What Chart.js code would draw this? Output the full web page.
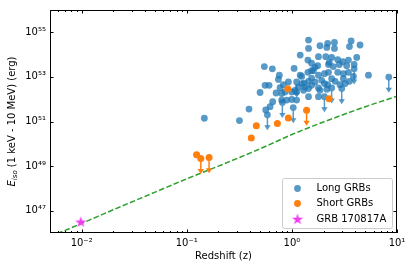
<!DOCTYPE html>
<html>
<head>
<meta charset="utf-8">
<script src="https://cdn.jsdelivr.net/npm/chart.js@4.4.0/dist/chart.umd.min.js"></script>
<style>
  html, body { margin: 0; padding: 0; background: #fff; }
  canvas { display: block; }
</style>
</head>
<body>
<canvas id="grbChart" width="415" height="270"></canvas>
<script>
// Long GRBs: redshift and isotropic energy (erg)
const longZ = [1.44, 3.66, 2.19, 2.54, 1.85, 2.15, 2.54, 3.53, 4.45, 1.44,
               1.20, 1.42, 1.79, 2.10, 2.39, 2.73, 3.05, 3.45, 4.14, 1.54,
               1.76, 2.23, 2.48, 2.83, 3.32, 3.91, 0.547, 0.652, 1.05, 1.42,
               1.54, 1.60, 1.79, 2.04, 2.23, 2.73, 3.09, 3.45, 3.85, 3.91,
               0.760, 1.20, 1.54, 5.35, 8.35, 0.744, 0.926, 1.11, 1.24, 1.44,
               1.66, 1.92, 2.04, 2.19, 2.58, 2.87, 3.21, 3.53, 0.556, 0.607,
               0.830, 0.772, 1.29, 1.44, 1.85, 2.15, 1.79, 2.39, 2.98, 0.498,
               0.707, 0.800, 0.861, 0.997, 1.11, 1.07, 1.44, 1.79, 2.04, 0.800,
               0.893, 0.997, 1.11, 0.657, 0.812, 0.620, 0.564, 1.03, 0.391, 0.585,
               0.147, 0.317, 1.24, 1.31, 2.27, 1.15, 1.33, 1.54, 2.39, 3.09, 1.66];
const longE = [4.5e54, 4.1e54, 3.2e54, 3.5e54, 2.5e54, 2.1e54, 1.9e54, 2.3e54, 2.7e54, 1.9e54,
               9.5e53, 5.7e53, 8.1e53, 8.1e53, 7.5e53, 5.9e53, 4.8e53, 5.7e53, 7.5e53, 4.1e53,
               3.2e53, 3.6e53, 2.9e53, 3.6e53, 3.2e53, 3.6e53, 2.9e53, 2.3e53, 2.4e53, 1.6e53,
               1.9e53, 1.9e53, 1.2e53, 1.4e53, 1.6e53, 1.6e53, 1.4e53, 1.6e53, 1.05e53, 2.3e53,
               1.2e53, 1.2e53, 8.9e52, 1.2e53, 9.8e52, 7.7e52, 5.9e52, 5.9e52, 5.0e52, 6.3e52,
               5.9e52, 7.0e52, 5.0e52, 4.5e52, 6.3e52, 4.5e52, 5.0e52, 6.3e52, 4.2e52, 4.2e52,
               4.5e52, 3.3e52, 2.5e52, 3.0e52, 2.5e52, 2.8e52, 3.2e52, 3.2e52, 3.0e52, 2.0e52,
               1.9e52, 1.8e52, 2.1e52, 2.1e52, 2.1e52, 2.5e52, 1.3e52, 1.3e52, 1.3e52, 9.1e51,
               9.1e51, 9.7e51, 9.1e51, 7.7e51, 7.2e51, 4.6e51, 3.3e51, 4.2e51, 3.6e51, 2.0e51,
               1.4e51, 1.1e51, 1.05e53, 5.3e52, 4.5e53, 3.5e52, 3.5e52, 4.2e52, 8.3e52, 8.3e52, 2.7e53];
const longUpperIdx = [39, 44, 47, 67, 68, 78, 84, 87, 89]; // upper limits (down arrows)

// Short GRBs
const shortZ = [0.124, 0.136, 0.163, 0.411, 0.459, 0.728, 0.925, 1.38, 0.914, 2.26];
const shortE = [3.2e49, 2.2e49, 2.4e49, 1.8e50, 6.5e50, 8.1e50, 1.45e51, 3.2e51, 2.95e52, 1.05e52];
const shortUpperIdx = [1, 2, 7];

// GRB 170817A
const starZ = [0.0098];
const starE = [3.2e46];

// detection limit curve (green dashed)
const limitZ = [0.005, 0.01, 0.02, 0.05, 0.1, 0.2, 0.5, 1, 2, 5, 10];
const limitE = [6.8e45, 2.7e46, 1.1e47, 6.8e47, 2.7e48, 1.0e49, 6.0e49, 2.6e50, 9.5e50, 4.6e51, 1.35e52];

const xTickValues = [0.01, 0.1, 1, 10];
const xTickLabels = ['10⁻²', '10⁻¹', '10⁰', '10¹'];
const yTickValues = [1e47, 1e49, 1e51, 1e53, 1e55];
const yTickLabels = ['10⁴⁷', '10⁴⁹', '10⁵¹', '10⁵³', '10⁵⁵'];
const legendLabels = ['Long GRBs', 'Short GRBs', 'GRB 170817A'];

const FONT = 'DejaVu Sans';
const BLUE = 'rgba(31, 119, 180, 0.75)';
const ORANGE = '#ff7f0e';
const MAGENTA = '#f23cf2';
const GREEN = '#2ca02c';
const ARROW_DROP = 0.2; // arrow tip at E * 0.2

Chart.defaults.font.family = FONT;
Chart.defaults.font.size = 10;
Chart.defaults.color = '#000';

function toPoints(xs, ys) {
    return xs.map((x, i) => ({ x: x, y: ys[i] }));
}

// filled five point star, like the matplotlib '*' marker
function makeStar(size, color) {
    const c = document.createElement('canvas');
    c.width = c.height = size;
    const g = c.getContext('2d');
    const r = size / 2, ri = r * 0.382;
    g.beginPath();
    for (let i = 0; i < 10; i++) {
        const rad = i % 2 === 0 ? r : ri;
        const a = -Math.PI / 2 + i * Math.PI / 5;
        g.lineTo(r + rad * Math.cos(a), r * 1.08 + rad * Math.sin(a));
    }
    g.closePath();
    g.fillStyle = color;
    g.fill();
    return c;
}
const starImg = makeStar(12, MAGENTA);

const decorations = {
    id: 'decorations',
    afterDatasetDraw(chart, args) {
        const ds = chart.data.datasets[args.index];
        if (!ds.upperIdx) return;
        const { ctx, chartArea: a } = chart;
        const x = chart.scales.x, y = chart.scales.y;
        ctx.save();
        ctx.beginPath();
        ctx.rect(a.left, a.top, a.right - a.left, a.bottom - a.top);
        ctx.clip();
        ctx.strokeStyle = ds.backgroundColor;
        ctx.fillStyle = ds.backgroundColor;
        ctx.lineWidth = 1.5;
        ds.upperIdx.forEach(i => {
            const p = ds.data[i];
            const px = x.getPixelForValue(p.x);
            const y0 = y.getPixelForValue(p.y);
            const y1 = y.getPixelForValue(p.y * ARROW_DROP);
            ctx.beginPath();
            ctx.moveTo(px, y0 + 3);
            ctx.lineTo(px, y1 - 4);
            ctx.stroke();
            ctx.beginPath();
            ctx.moveTo(px - 3.2, y1 - 5);
            ctx.lineTo(px + 3.2, y1 - 5);
            ctx.lineTo(px, y1);
            ctx.closePath();
            ctx.fill();
        });
        ctx.restore();
    },
    afterDraw(chart) {
        const { ctx, chartArea: a } = chart;
        const x = chart.scales.x, y = chart.scales.y;
        ctx.save();

        // frame
        ctx.strokeStyle = '#000';
        ctx.lineWidth = 1;
        ctx.strokeRect(a.left + 0.5, a.top + 0.5, a.right - a.left - 1, a.bottom - a.top - 1);

        // inward ticks on all four sides
        ctx.beginPath();
        for (let k = -3; k <= 1; k++) {
            for (let m = 1; m <= 9; m++) {
                const v = m * Math.pow(10, k);
                if (v < x.min || v > x.max) continue;
                const px = Math.round(x.getPixelForValue(v)) + 0.5;
                const len = m === 1 ? 3.5 : 2;
                ctx.moveTo(px, a.bottom); ctx.lineTo(px, a.bottom - len);
                ctx.moveTo(px, a.top); ctx.lineTo(px, a.top + len);
            }
        }
        yTickValues.forEach(v => {
            const py = Math.round(y.getPixelForValue(v)) + 0.5;
            ctx.moveTo(a.left, py); ctx.lineTo(a.left + 3.5, py);
            ctx.moveTo(a.right, py); ctx.lineTo(a.right - 3.5, py);
        });
        ctx.stroke();

        // axis titles
        ctx.fillStyle = '#000';
        ctx.textBaseline = 'middle';
        ctx.textAlign = 'center';
        ctx.font = '10px ' + FONT;
        ctx.fillText('Redshift (z)', (a.left + a.right) / 2, 256);

        ctx.save();
        ctx.translate(12.5, (a.top + a.bottom) / 2);
        ctx.rotate(-Math.PI / 2);
        ctx.textAlign = 'left';
        const parts = [
            { t: 'E', f: 'italic 10px ' + FONT, dy: 0 },
            { t: 'iso', f: 'italic 7px ' + FONT, dy: 2.5 },
            { t: ' (1 keV - 10 MeV) (erg)', f: '10px ' + FONT, dy: 0 }
        ];
        let total = 0;
        parts.forEach(p => { ctx.font = p.f; p.w = ctx.measureText(p.t).width; total += p.w; });
        let cx = -total / 2;
        parts.forEach(p => { ctx.font = p.f; ctx.fillText(p.t, cx, p.dy); cx += p.w; });
        ctx.restore();

        // legend
        const bw = 110, bh = 50;
        const bx = a.right - 4.5 - bw, by = a.bottom - 4.5 - bh;
        ctx.beginPath();
        ctx.roundRect(bx, by, bw, bh, 2);
        ctx.fillStyle = 'rgba(255,255,255,0.8)';
        ctx.fill();
        ctx.strokeStyle = '#cccccc';
        ctx.lineWidth = 1;
        ctx.stroke();

        const mx = bx + 15, tx = bx + 34;
        const rows = [by + 10, by + 25, by + 40.5];
        ctx.beginPath();
        ctx.arc(mx, rows[0], 3.4, 0, Math.PI * 2);
        ctx.fillStyle = BLUE;
        ctx.fill();
        ctx.beginPath();
        ctx.arc(mx, rows[1], 3.4, 0, Math.PI * 2);
        ctx.fillStyle = ORANGE;
        ctx.fill();
        ctx.drawImage(starImg, mx - 6, rows[2] - 6);

        ctx.fillStyle = '#000';
        ctx.font = '10px ' + FONT;
        ctx.textAlign = 'left';
        legendLabels.forEach((t, i) => ctx.fillText(t, tx, rows[i]));

        ctx.restore();
    }
};

const ctx = document.getElementById('grbChart').getContext('2d');
new Chart(ctx, {
    type: 'scatter',
    data: {
        datasets: [
            {
                label: 'GRB 170817A',
                data: toPoints(starZ, starE),
                pointStyle: starImg,
                order: 0
            },
            {
                label: 'Short GRBs',
                data: toPoints(shortZ, shortE),
                backgroundColor: ORANGE,
                borderWidth: 0,
                pointRadius: 3.5,
                upperIdx: shortUpperIdx,
                order: 1
            },
            {
                label: 'Long GRBs',
                data: toPoints(longZ, longE),
                backgroundColor: BLUE,
                borderWidth: 0,
                pointRadius: 3.4,
                upperIdx: longUpperIdx,
                order: 2
            },
            {
                label: 'limit',
                type: 'line',
                data: toPoints(limitZ, limitE),
                borderColor: GREEN,
                borderWidth: 1.5,
                borderDash: [5.5, 2.4],
                pointRadius: 0,
                fill: false,
                cubicInterpolationMode: 'monotone',
                order: 3
            }
        ]
    },
    options: {
        responsive: false,
        animation: false,
        devicePixelRatio: 1,
        layout: { padding: { left: 0, top: 7, right: 18, bottom: 0 } },
        plugins: {
            legend: { display: false },
            tooltip: { enabled: false }
        },
        scales: {
            x: {
                type: 'logarithmic',
                min: 0.005,
                max: 10,
                afterBuildTicks: s => { s.ticks = xTickValues.map(v => ({ value: v })); },
                afterFit: s => { s.height = 37; },
                grid: { display: false, drawTicks: false },
                border: { display: false },
                ticks: {
                    callback: (v, i) => xTickLabels[i],
                    autoSkip: false,
                    maxRotation: 0,
                    padding: 4,
                    color: '#000',
                    font: { size: 10 }
                }
            },
            y: {
                type: 'logarithmic',
                min: 1e46,
                max: 1e56,
                afterBuildTicks: s => { s.ticks = yTickValues.map(v => ({ value: v })); },
                afterFit: s => { s.width = 50; },
                grid: { display: false, drawTicks: false },
                border: { display: false },
                ticks: {
                    callback: (v, i) => yTickLabels[i],
                    autoSkip: false,
                    padding: 4,
                    color: '#000',
                    font: { size: 10 }
                }
            }
        }
    },
    plugins: [decorations]
});
</script>
</body>
</html>
